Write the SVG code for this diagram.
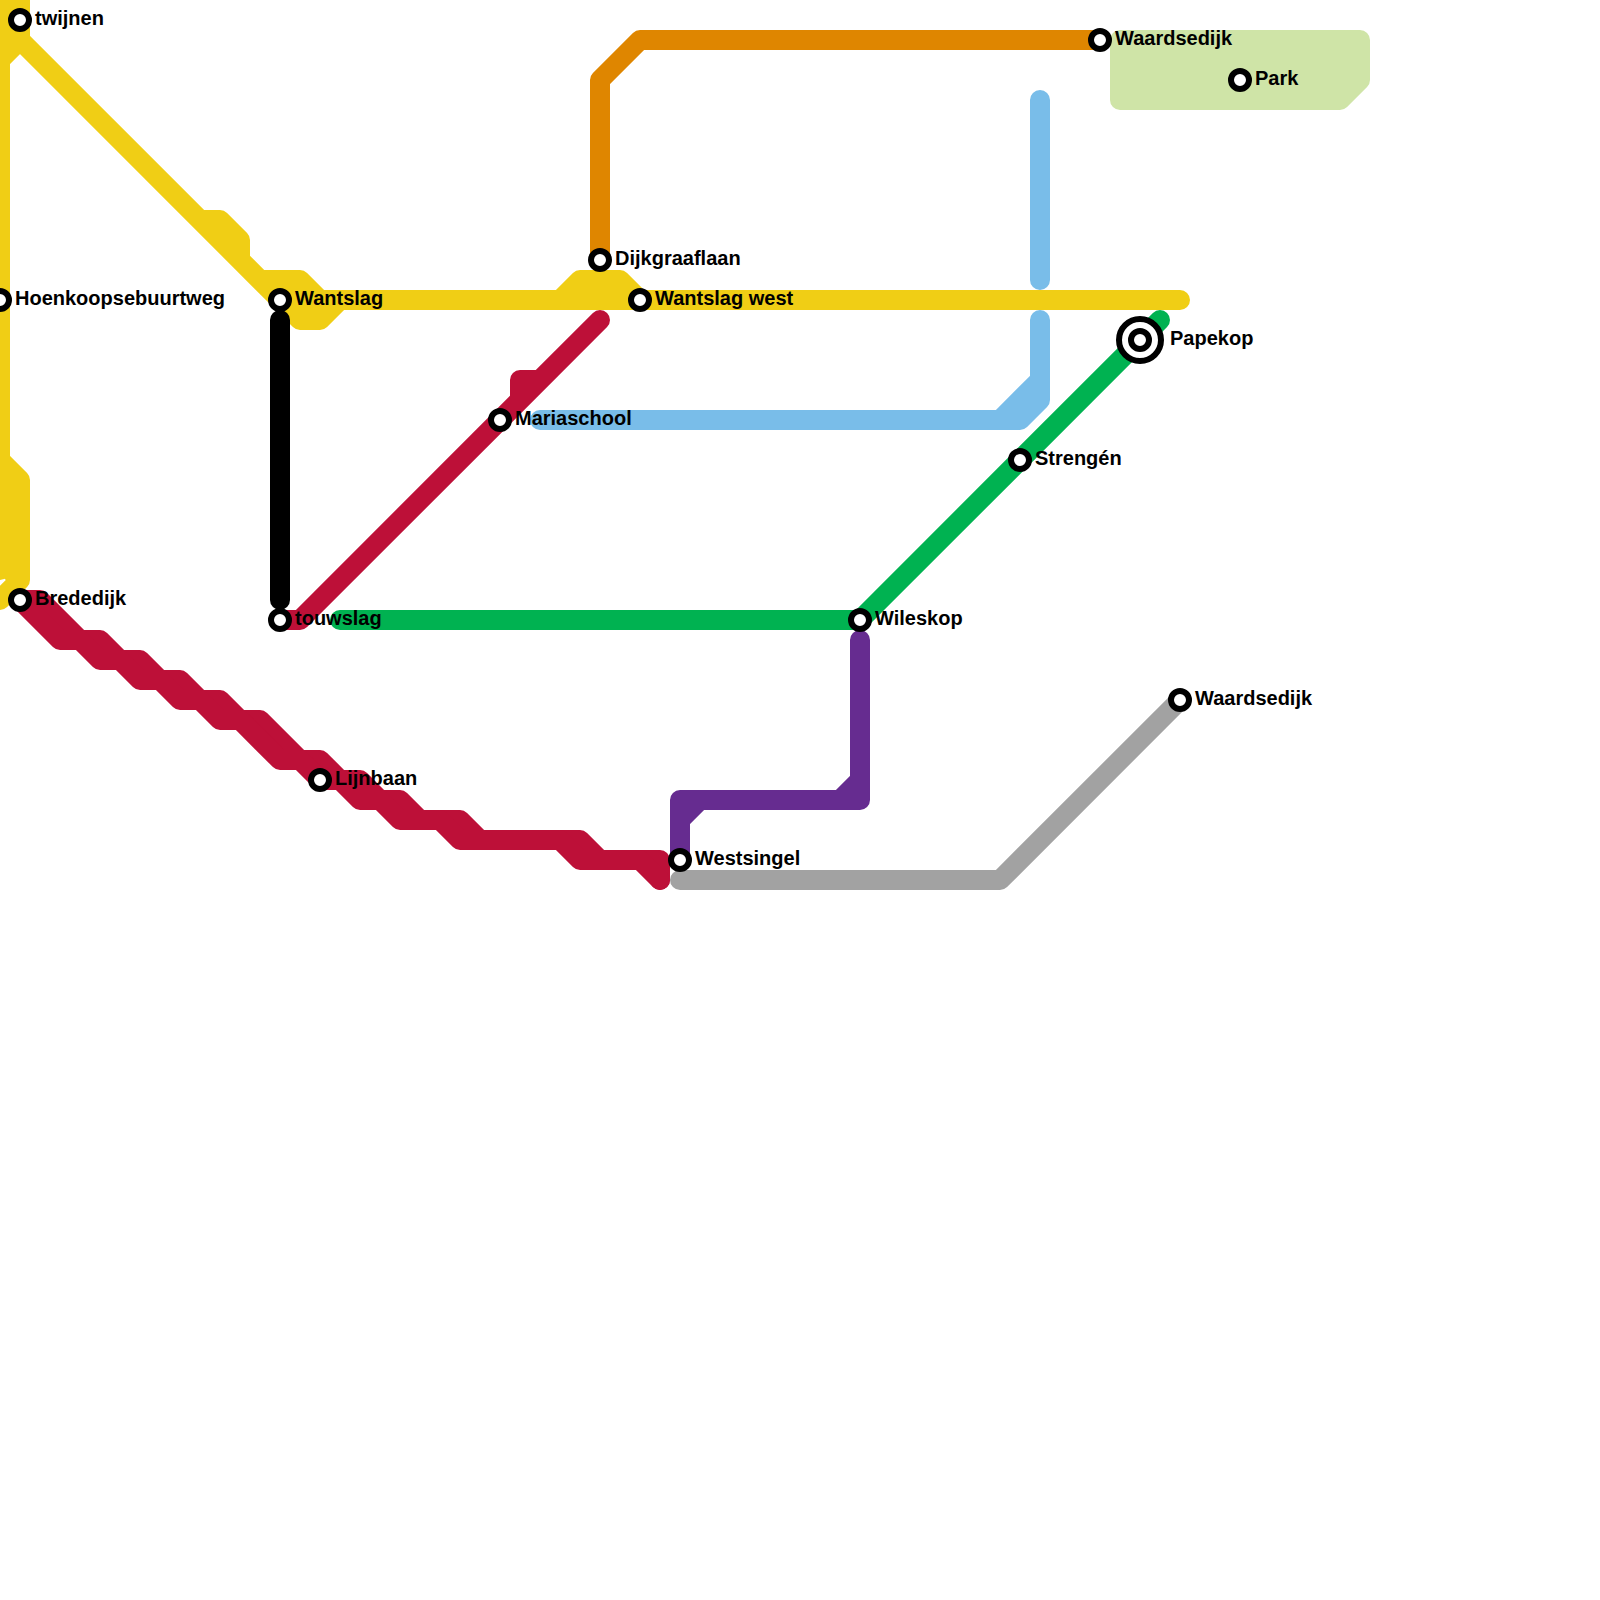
<svg xmlns="http://www.w3.org/2000/svg" width="1600" height="1600" viewBox="0 0 1600 1600">
<style>
.l{fill:none;stroke-width:20;stroke-linecap:round;stroke-linejoin:round}
.y{stroke:#F0CE15}.r{stroke:#BD1038}.g{stroke:#00B251}.b{stroke:#79BDE9}.o{stroke:#DF8600}.p{stroke:#662C90}.a{stroke:#A2A2A2}.k{stroke:#000}
.s{fill:#fff;stroke:#000;stroke-width:6}
text{font-family:"Liberation Sans",Arial,sans-serif;font-weight:700;font-size:20px;fill:#000}
</style>
<rect width="1600" height="1600" fill="#fff"/>
<g id="park-area"><polygon points="1120,40 1360,40 1360,80 1340,100 1120,100" fill="#CFE4A7" stroke="#CFE4A7" stroke-width="20" stroke-linejoin="round"/></g>
<g id="connectors">
<path class="l y" d="M0,-10V570M20,-10V40L0,60M20,40L280,300M200,220H220L240,240V260M260,280H300L320,300M280,300L300,320H320L340,300M280,300H1180M560,300L580,280H620L640,300M0,460L20,480V580L0,600M0,480L20,500M0,560L20,580M0,470V570"/>
<path class="l r" d="M20,600H40L80,640H100L120,660H140L160,680H180L200,700H220L240,720H260L300,760H320L340,780H360L380,800H400L420,820H460L480,840H580L600,860H660V880"/>
<path class="l r" d="M20,600L60,640H80L100,660H120L140,680H160L180,700H200L220,720H240L280,760H300L320,780H340L360,800H380L400,820H440L460,840H560L580,860H640L660,880"/>
<path class="l r" d="M280,620H300L600,320M500,420L520,400V380H540L560,360"/>
<path class="l o" d="M600,260V80L640,40H1100"/>
<path class="l b" d="M1040,100V280M1040,320V400L1020,420H540M1000,420L1040,380"/>
<path class="l g" d="M340,620H860L1160,320"/>
<path class="l p" d="M860,640V800H680V860M840,800L860,780M700,800L680,820"/>
<path class="l a" d="M680,880H1000L1180,700"/>
<path class="l k" d="M280,320V600"/>
</g>
<g id="twijnen"><circle class="s" cx="20" cy="20" r="9"/><text x="35" y="25">twijnen</text></g>
<g id="hoenkoopsebuurtweg"><circle class="s" cx="0" cy="300" r="9"/><text x="15" y="305">Hoenkoopsebuurtweg</text></g>
<g id="wantslag"><circle class="s" cx="280" cy="300" r="9"/><text x="295" y="305">Wantslag</text></g>
<g id="touwslag"><circle class="s" cx="280" cy="620" r="9"/><text x="295" y="625">touwslag</text></g>
<g id="brededijk"><circle class="s" cx="20" cy="600" r="9"/><text x="35" y="605">Brededijk</text></g>
<g id="lijnbaan"><circle class="s" cx="320" cy="780" r="9"/><text x="335" y="785">Lijnbaan</text></g>
<g id="mariaschool"><circle class="s" cx="500" cy="420" r="9"/><text x="515" y="425">Mariaschool</text></g>
<g id="dijkgraaflaan"><circle class="s" cx="600" cy="260" r="9"/><text x="615" y="265">Dijkgraaflaan</text></g>
<g id="wantslag-west"><circle class="s" cx="640" cy="300" r="9"/><text x="655" y="305">Wantslag west</text></g>
<g id="waardsedijk-1"><circle class="s" cx="1100" cy="40" r="9"/><text x="1115" y="45">Waardsedijk</text></g>
<g id="park"><circle class="s" cx="1240" cy="80" r="9"/><text x="1255" y="85">Park</text></g>
<g id="papekop"><circle class="s" cx="1140" cy="340" r="21"/><circle class="s" cx="1140" cy="340" r="9"/><text x="1170" y="345">Papekop</text></g>
<g id="strengen"><circle class="s" cx="1020" cy="460" r="9"/><text x="1035" y="465">Strengén</text></g>
<g id="wileskop"><circle class="s" cx="860" cy="620" r="9"/><text x="875" y="625">Wileskop</text></g>
<g id="westsingel"><circle class="s" cx="680" cy="860" r="9"/><text x="695" y="865">Westsingel</text></g>
<g id="waardsedijk-2"><circle class="s" cx="1180" cy="700" r="9"/><text x="1195" y="705">Waardsedijk</text></g>
</svg>
